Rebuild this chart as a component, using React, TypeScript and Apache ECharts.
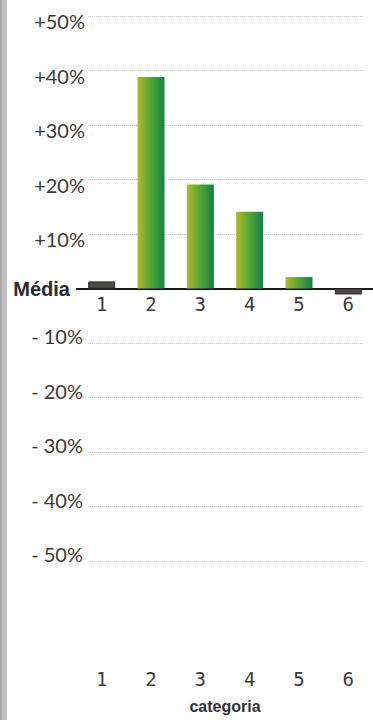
import { useEffect, useRef } from 'react';
import * as echarts from 'echarts';

const categories = ['1', '2', '3', '4', '5', '6'];
const values = [1.3, 38.8, 19.1, 14.1, 2.1, -1.1];
const greyCategories = ['1', '6'];
const yMin = -50;
const yMax = 50;
const yStep = 10;
const zeroLabel = 'Média';
const xAxisName = 'categoria';

const positiveLabel = (v: number) => (v > 0 ? `+${v}%` : '');
const negativeLabel = (v: number) => (v < 0 ? `- ${-v}%` : '');
const zeroOnly = (v: number) => (v === 0 ? zeroLabel : '');

export default function App() {
  const ref = useRef<HTMLDivElement>(null);
  useEffect(() => {
    if (!ref.current) return;
    const chart = echarts.init(ref.current, null, { renderer: 'svg' });
    const labelFont = { fontFamily: 'Lato', fontSize: 20, color: '#3a3a3a' };
    const catFont = { fontFamily: 'DejaVu Sans Mono', fontSize: 19, color: '#3c3c3c' };
    const topPad = 16;
    const botPad = 159;
    const plotHeight = 720 - topPad - botPad;
    const zeroOffset = -plotHeight * (0 - yMin) / (yMax - yMin);
    const green = new echarts.graphic.LinearGradient(0, 0, 1, 0, [
      { offset: 0, color: '#b3b92c' },
      { offset: 0.45, color: '#5aa834' },
      { offset: 1, color: '#167f4a' },
    ]);
    const baseY = {
      type: 'value',
      position: 'left',
      min: yMin,
      max: yMax,
      interval: yStep,
      axisLine: { show: false },
      axisTick: { show: false },
    };
    const barGrid = { left: 77, right: -8, top: topPad, bottom: botPad };
    chart.setOption({
      animation: false,
      backgroundColor: '#ffffff',
      graphic: [
        { type: 'rect', left: 0, top: 0, shape: { width: 7, height: 720 }, style: { fill: '#c2c2c2' } },
        { type: 'rect', left: 0, top: 0, shape: { width: 2, height: 720 }, style: { fill: '#a9a9a9' } },
      ],
      grid: [{ left: 88, right: 10, top: topPad, bottom: botPad }, barGrid, barGrid],
      xAxis: [
        { gridIndex: 0, type: 'category', data: categories, show: false },
        {
          gridIndex: 1,
          type: 'category',
          data: categories,
          position: 'bottom',
          offset: zeroOffset,
          axisLine: { onZero: false, lineStyle: { color: '#1a1a1a', width: 2 } },
          axisTick: { show: false },
          axisLabel: { ...catFont, margin: 6 },
          splitLine: { show: false },
        },
        {
          gridIndex: 2,
          type: 'category',
          data: categories,
          position: 'bottom',
          offset: 100,
          axisLine: { show: false, onZero: false },
          axisTick: { show: false },
          axisLabel: { ...catFont, margin: 8 },
          name: xAxisName,
          nameLocation: 'middle',
          nameGap: 37,
          nameTextStyle: { fontFamily: 'Liberation Sans', fontWeight: 'bold', fontSize: 16, color: '#333333' },
        },
      ],
      yAxis: [
        {
          ...baseY,
          gridIndex: 0,
          splitLine: { show: true, lineStyle: { color: '#c9c9c9', type: 'dotted', width: 1 } },
          axisLabel: { ...labelFont, margin: 3, verticalAlign: 'top', lineHeight: 10, formatter: positiveLabel },
        },
        {
          ...baseY,
          gridIndex: 0,
          splitLine: { show: false },
          axisLabel: { ...labelFont, margin: 5, verticalAlign: 'bottom', lineHeight: 14, formatter: negativeLabel },
        },
        {
          ...baseY,
          gridIndex: 0,
          splitLine: { show: false },
          axisLabel: {
            fontFamily: 'Liberation Sans',
            fontWeight: 'bold',
            fontSize: 20,
            color: '#2a2a2a',
            margin: 18,
            formatter: zeroOnly,
          },
        },
        { ...baseY, gridIndex: 1, show: false, splitLine: { show: false } },
        { ...baseY, gridIndex: 2, show: false, splitLine: { show: false } },
      ],
      series: [
        {
          type: 'bar',
          xAxisIndex: 1,
          yAxisIndex: 3,
          barWidth: 27,
          data: values.map((v, i) => ({
            value: v,
            itemStyle: greyCategories.includes(categories[i])
              ? { color: '#4e4b47', borderColor: '#2e2c2a', borderWidth: 1 }
              : { color: green },
          })),
        },
      ],
    });
    return () => chart.dispose();
  }, []);
  return <div ref={ref} style={{ position: 'absolute', left: 0, top: 0, width: 373, height: 720, background: '#fff' }} />;
}
